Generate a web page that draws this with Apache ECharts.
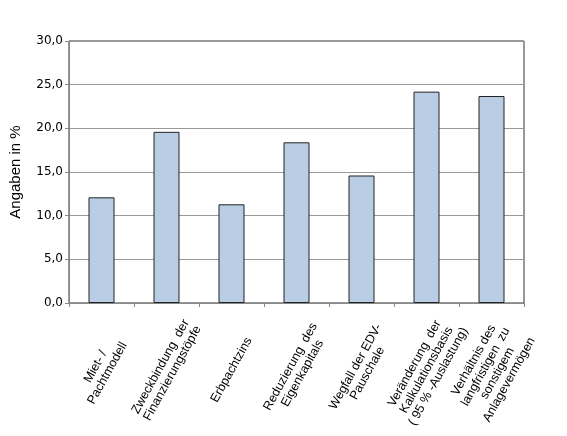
<!DOCTYPE html>
<html>
<head>
	<meta charset="utf-8">
	<title>Angaben in %</title>
	<script src="https://cdn.jsdelivr.net/npm/echarts@6/dist/echarts.min.js"></script>
	<style>
		html, body { margin: 0; padding: 0; background: #fff; }
		#main { width: 567px; height: 436px; }
	</style>
</head>
<body>
<div id="main"></div>
<script type="text/javascript">
	// Kategorien (x-Achse) und Werte in %
	var categories = [
		'Miet- /\nPachtmodell',
		'Zweckbindung  der\nFinanzierungstöpfe',
		'Erbpachtzins',
		'Reduzierung  des\nEigenkapitals',
		'Wegfall der EDV-\nPauschale',
		'Veränderung  der\nKalkulationsbasis\n( 95 % -Auslastung)',
		'Verhältnis des\nlangfristigen  zu\nsonstigem\nAnlagevermögen'
	];
	var values = [12.1, 19.6, 11.3, 18.4, 14.6, 24.2, 23.7];
	var yTicks = [0, 5, 10, 15, 20, 25, 30];

	var myChart = echarts.init(document.getElementById('main'));
	myChart.setOption({
		animation: false,
		grid: {
			left: 68,
			right: 43,
			top: 41,
			bottom: 133,
			show: true,
			borderColor: '#333',
			borderWidth: 1
		},
		xAxis: {
			type: 'category',
			data: categories,
			axisLine: { lineStyle: { color: '#888' } },
			axisTick: { show: true, length: 4, lineStyle: { color: '#888' } },
			axisLabel: {
				interval: 0,
				rotate: 61,
				align: 'center',
				verticalAlign: 'middle',
				margin: 67,
				fontFamily: 'Liberation Sans',
				fontSize: 12.5,
				lineHeight: 13.5,
				color: '#000'
			}
		},
		yAxis: {
			type: 'value',
			min: yTicks[0],
			max: yTicks[yTicks.length - 1],
			interval: 5,
			name: 'Angaben in %',
			nameLocation: 'middle',
			nameGap: 46,
			nameTextStyle: {
				fontFamily: 'Liberation Sans',
				fontSize: 15,
				color: '#000'
			},
			axisLine: { show: true, lineStyle: { color: '#888' } },
			axisTick: { show: true, length: 4, lineStyle: { color: '#888' } },
			splitLine: { lineStyle: { color: '#999', width: 1 } },
			axisLabel: {
				fontFamily: 'DejaVu Sans',
				fontSize: 12,
				color: '#000',
				margin: 6,
				formatter: function (v) { return v.toFixed(1).replace('.', ','); }
			}
		},
		series: [{
			type: 'bar',
			data: values,
			barWidth: '40%',
			itemStyle: {
				color: '#B9CDE5',
				borderColor: '#222',
				borderWidth: 1
			}
		}]
	});
</script>
</body>
</html>
